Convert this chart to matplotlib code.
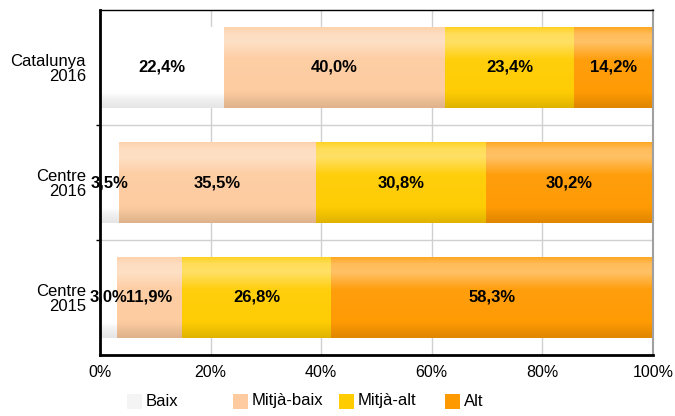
import matplotlib.pyplot as plt
import matplotlib.colors as mcolors
from matplotlib.patches import Rectangle
import numpy as np

plt.rcParams['font.family'] = ['Liberation Sans', 'DejaVu Sans']

# data
categories = ['Catalunya\n2016', 'Centre\n2016', 'Centre\n2015']
series = ['Baix', 'Mitjà-baix', 'Mitjà-alt', 'Alt']
baix = [22.4, 3.5, 3.0]
mitja_baix = [40.0, 35.5, 11.9]
mitja_alt = [23.4, 30.8, 26.8]
alt = [14.2, 30.2, 58.3]
xticks = [0, 20, 40, 60, 80, 100]

colors = ['#FFFFFF', '#FDCB9F', '#FFCC00', '#FF9900']
legend_colors = ['#F4F4F4', '#FDCB9F', '#FFCC00', '#FF9900']

W, H = 675, 416


def gradient_img(base):
    # vertical shading: bright band near top, darker bottom edge
    t = np.linspace(0, 1, 64)
    light = np.interp(t, [0, 0.08, 0.18, 0.4, 1], [0.15, 0.35, 0.4, 0.05, 0])
    dark = np.interp(t, [0, 0.8, 0.9, 1], [0, 0, 0.06, 0.12])
    rgb = np.array(mcolors.to_rgb(base))
    if base == '#FFFFFF':
        light = light * 0
        dark = np.interp(t, [0, 0.82, 0.88, 1], [0, 0, 0.05, 0.1])
    img = rgb[None, :] * (1 - light[:, None]) + light[:, None]
    img = img * (1 - dark[:, None])
    return img[:, None, :]


fig = plt.figure(figsize=(W / 100, H / 100), dpi=100)
ax = fig.add_axes([100 / W, 61 / H, 553 / W, 345 / H])

y = np.arange(len(categories))
left = np.zeros(len(categories))
for name, vals, col in zip(series, [baix, mitja_baix, mitja_alt, alt], colors):
    vals = np.array(vals)
    bars = ax.barh(y, vals, left=left, height=0.7, color=col, zorder=2)
    for b, v in zip(bars, vals):
        x0, y0 = b.get_x(), b.get_y()
        w, h = b.get_width(), b.get_height()
        im = ax.imshow(gradient_img(col), extent=[x0, x0 + w, y0 + h, y0],
                       aspect='auto', zorder=2.5, interpolation='bilinear')
        im.set_clip_path(b)
        lab = f'{v:.1f}%'.replace('.', ',')
        ax.text(x0 + w / 2, y0 + h / 2, lab, ha='center', va='center',
                fontsize=12, fontweight='bold', zorder=4)
    left += vals

ax.set_xlim(0, 100)
ax.set_ylim(2.5, -0.5)
ax.set_aspect('auto')
ax.set_xticks(xticks)
ax.set_xticklabels([f'{v}%' for v in xticks], fontsize=11.5)
ax.set_yticks(y)
ax.set_yticklabels(categories, fontsize=12, ha='right', linespacing=1.0)
ax.set_yticks([0.5, 1.5], minor=True)
ax.tick_params(axis='y', which='major', length=0, pad=10)
ax.tick_params(axis='y', which='minor', length=3, width=1)
ax.tick_params(axis='x', length=0, pad=7)
ax.grid(axis='x', color='#D0D0D0', linewidth=1, zorder=0)
ax.grid(axis='y', which='minor', color='#D0D0D0', linewidth=1, zorder=0)
ax.set_axisbelow(True)

ax.spines['left'].set_linewidth(2)
ax.spines['bottom'].set_linewidth(2)
ax.spines['top'].set_linewidth(1)
ax.spines['right'].set_color('#A0A0A0')
ax.spines['right'].set_linewidth(1.5)

# legend with evenly spaced entries
for i, (name, col) in enumerate(zip(series, legend_colors)):
    px = 127 + 106 * i
    fig.add_artist(Rectangle((px / W, (H - 409) / H), 15 / W, 15 / H,
                             facecolor=col, edgecolor='none',
                             transform=fig.transFigure))
    fig.text((px + 19) / W, (H - 401) / H, name, fontsize=12,
             ha='left', va='center')

plt.savefig('out.png', dpi=100)
